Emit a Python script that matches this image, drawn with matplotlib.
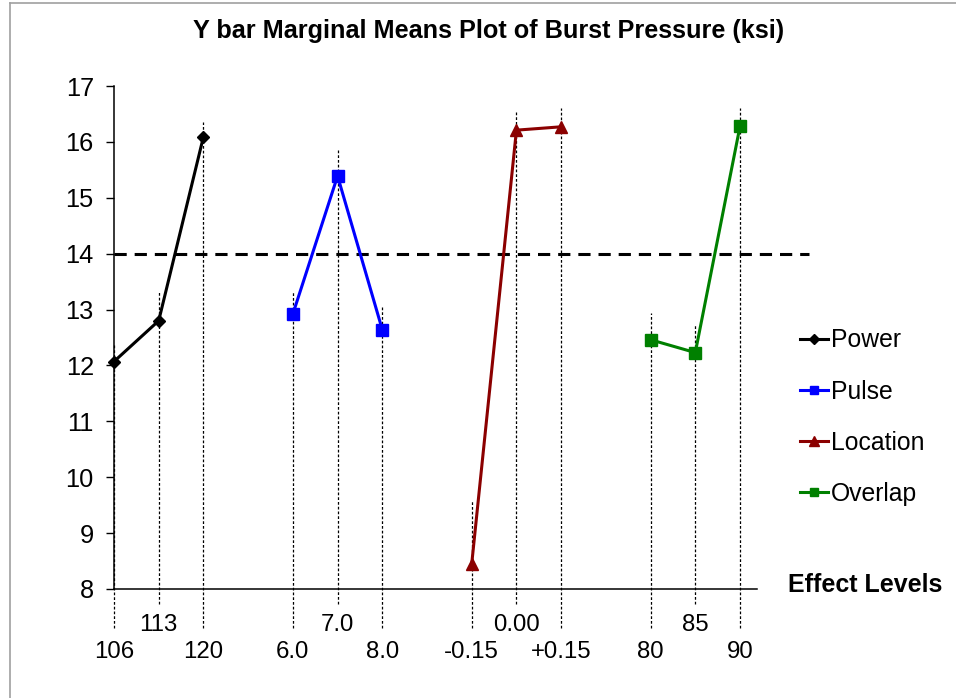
import matplotlib
matplotlib.use("Agg")
import matplotlib.pyplot as plt
from matplotlib.lines import Line2D

# factors, their levels and marginal means (ksi)
factors = ["Power", "Pulse", "Location", "Overlap"]
levels = [["106", "113", "120"],
          ["6.0", "7.0", "8.0"],
          ["-0.15", "0.00", "+0.15"],
          ["80", "85", "90"]]
means = [[12.07, 12.80, 16.09],
         [12.92, 15.39, 12.64],
         [8.45, 16.21, 16.27],
         [12.46, 12.23, 16.28]]
# upper end of the dotted level lines
line_tops = [[12.40, 13.33, 16.36],
             [13.33, 15.87, 13.06],
             [9.60, 16.55, 16.60],
             [12.94, 12.74, 16.60]]
target = 14.0

colors = ["black", "#0000ff", "#8b0000", "#008000"]
markers = ["D", "s", "^", "s"]
msizes = [6, 8, 9, 8]

plt.rcParams["font.family"] = ["Liberation Sans", "DejaVu Sans"]

fig = plt.figure(figsize=(9.56, 6.98), dpi=100)
ax = fig.add_axes([114 / 956, 1 - 589 / 698, (757 - 114) / 956, (589 - 86) / 698])

# light grey frame at the top/left edge
fig.add_artist(Line2D([10 / 956, 10 / 956], [0, 1 - 3 / 698], transform=fig.transFigure,
                      color="#a0a0a0", lw=1.2))
fig.add_artist(Line2D([10 / 956, 1], [1 - 3 / 698, 1 - 3 / 698], transform=fig.transFigure,
                      color="#a0a0a0", lw=1.2))

handles = []
for g, name in enumerate(factors):
    xs = [4 * g + 1 + k for k in range(3)]
    for k, x in enumerate(xs):
        low = 7.73 if k == 1 else 7.30
        ax.plot([x, x], [low, line_tops[g][k]], color="black", lw=0.9,
                linestyle=(0, (2.2, 1.6)), clip_on=False, zorder=1)
        ty = 7.36 if k == 1 else 6.88
        ax.text(x, ty, levels[g][k], ha="center", va="center", fontsize=17.3)
    h, = ax.plot(xs, means[g], color=colors[g], lw=2.2, marker=markers[g],
                 markersize=msizes[g], label=name, zorder=3, clip_on=False)
    handles.append(h)

ax.plot([1, 16.55], [target, target], color="black", lw=2.2,
        linestyle=(0, (4, 2.6)), clip_on=False, zorder=2)

ax.set_xlim(1, 15.38)
ax.set_ylim(8, 17)
ax.set_yticks(range(8, 18))
ax.set_xticks([])
ax.tick_params(axis="y", labelsize=18.3, direction="out", length=6, width=1, pad=8.5)
for s in ["top", "right"]:
    ax.spines[s].set_visible(False)
ax.spines["left"].set_linewidth(1.1)
ax.spines["bottom"].set_linewidth(1.1)

fig.text(489 / 956, 1 - 31 / 698, "Y bar Marginal Means Plot of Burst Pressure (ksi)",
         ha="center", va="center", fontsize=18.2, fontweight="bold")
fig.text(865 / 956, 1 - 585 / 698, "Effect Levels", ha="center", va="center",
         fontsize=18, fontweight="bold")

ax.legend(handles=handles, loc="upper left", bbox_to_anchor=(788 / 956, 1 - 316 / 698),
          bbox_transform=fig.transFigure, frameon=False, fontsize=17.8,
          handlelength=1.1, handletextpad=0.15, labelspacing=1.1, borderpad=0,
          markerscale=0.8)

fig.savefig("out.png", dpi=100)
